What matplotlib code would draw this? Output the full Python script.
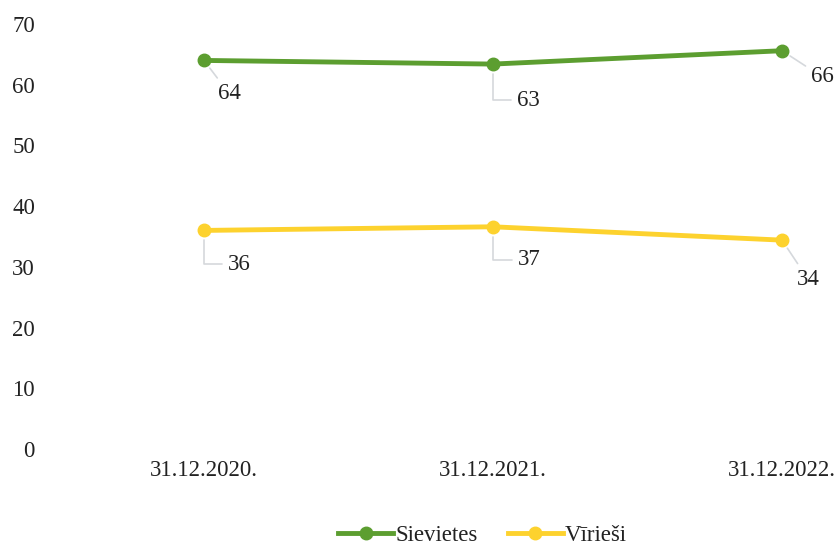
import matplotlib
matplotlib.use("Agg")
import matplotlib.pyplot as plt

# chart data
dates = ["31.12.2020.", "31.12.2021.", "31.12.2022."]
sievietes = [64.0, 63.4, 65.6]
virriesi = [36.0, 36.6, 34.4]
series_names = ["Sievietes", "Vīrieši"]

plt.rcParams['font.family'] = ['Liberation Serif', 'DejaVu Serif']

fig = plt.figure(figsize=(8.39, 5.49), dpi=100)
ax = fig.add_axes([60 / 839, 100 / 549, 779 / 839, 425 / 549])

green = '#5c9e30'
yellow = '#fdd22e'
x = list(range(len(dates)))

ax.plot(x, sievietes, color=green, lw=3.5, marker='o', ms=9, label=series_names[0])
ax.plot(x, virriesi, color=yellow, lw=3.5, marker='o', ms=9, label=series_names[1])

# data labels with leader lines (offsets in pixels, connector style)
offs_g = [(25, -33, 'arc3'), (35, -36, 'angle'), (40, -26, 'arc3')]
offs_y = [(35, -34, 'angle'), (36, -33, 'angle'), (26, -39, 'arc3')]
for vals, offs in [(sievietes, offs_g), (virriesi, offs_y)]:
    for xi, v, (dx, dy, cs) in zip(x, vals, offs):
        conn = 'angle,angleA=0,angleB=90,rad=0' if cs == 'angle' else 'arc3,rad=0'
        ax.annotate(f"{round(v):d}", (xi, v), xytext=(dx, dy), textcoords='offset pixels',
                    ha='center', va='center', fontsize=16.5, color='#222222',
                    arrowprops=dict(arrowstyle='-', color='#d5d8dc', lw=1.2,
                                    shrinkA=2, shrinkB=7, connectionstyle=conn))

ax.set_xlim(-144 / 289, 635 / 289)
ax.set_ylim(0, 70)
ax.set_yticks(range(0, 71, 10))
ax.set_xticks(x)
ax.set_xticklabels(dates)
ax.tick_params(length=0, labelsize=16.5, colors='#222222')
ax.tick_params(axis='y', pad=18)
ax.tick_params(axis='x', pad=8)
for s in ax.spines.values():
    s.set_visible(False)

fig.legend(loc='lower center', bbox_to_anchor=(0.575, -0.032), ncol=2, frameon=False,
           fontsize=16.5, handlelength=2.4, columnspacing=1.3, handletextpad=0.1,
           labelcolor='#222222')

fig.savefig('out.png', dpi=100)
